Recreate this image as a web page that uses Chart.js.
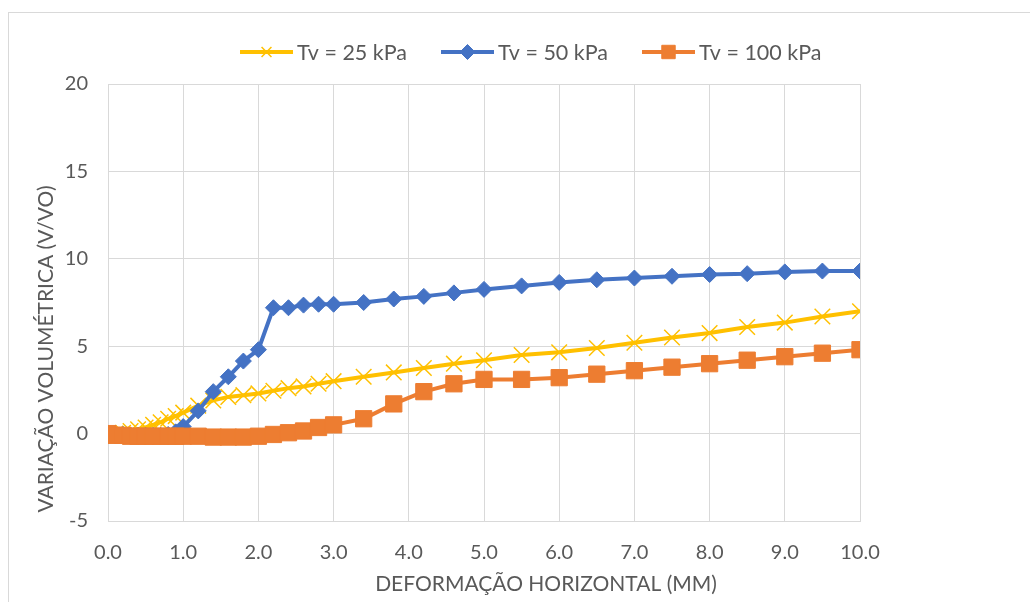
<!DOCTYPE html>
<html>
<head>
<meta charset="utf-8">
<script src="https://cdn.jsdelivr.net/npm/chart.js@4/dist/chart.umd.min.js"></script>
<style>
  html, body { margin: 0; padding: 0; background: #fff; }
  #wrap { width: 1030px; height: 602px; position: relative; }
</style>
</head>
<body>
<div id="wrap"><canvas id="chart" width="1030" height="602"></canvas></div>
<script>
// Data
const deformacao = [0, 0.1, 0.2, 0.3, 0.4, 0.5, 0.6, 0.7, 0.8, 0.9, 1.0, 1.2, 1.4, 1.6, 1.8, 2.0, 2.2, 2.4, 2.6, 2.8, 3.0,
    3.4, 3.8, 4.2, 4.6, 5.0, 5.5, 6.0, 6.5, 7.0, 7.5, 8.0, 8.5, 9.0, 9.5, 10.0];
const tv25 = [0, 0, 0.05, 0.15, 0.25, 0.35, 0.5, 0.65, 0.85, 1.0, 1.2, 1.6, 1.9, 2.1, 2.2, 2.3, 2.45, 2.6, 2.7, 2.85, 3.0,
    3.25, 3.5, 3.75, 4.0, 4.2, 4.5, 4.65, 4.9, 5.2, 5.5, 5.75, 6.1, 6.35, 6.7, 7.0];
const tv50 = [0, -0.05, -0.05, -0.1, -0.1, -0.1, -0.1, -0.1, -0.05, 0.1, 0.4, 1.3, 2.4, 3.25, 4.15, 4.8, 7.2, 7.2, 7.35, 7.4, 7.4,
    7.5, 7.7, 7.85, 8.05, 8.25, 8.45, 8.65, 8.8, 8.9, 9.0, 9.1, 9.15, 9.25, 9.3, 9.3];
const tv100 = [0, -0.1, -0.1, -0.15, -0.15, -0.15, -0.15, -0.15, -0.15, -0.15, -0.15, -0.15, -0.2, -0.2, -0.2, -0.15, -0.05, 0.05, 0.15, 0.35, 0.5,
    0.85, 1.7, 2.4, 2.85, 3.1, 3.1, 3.2, 3.4, 3.6, 3.8, 4.0, 4.2, 4.4, 4.6, 4.8];
const seriesLabels = ['Tv = 25 kPa', 'Tv = 50 kPa', 'Tv = 100 kPa'];
const xTicks = [0, 1, 2, 3, 4, 5, 6, 7, 8, 9, 10];
const xTitle = 'DEFORMAÇÃO HORIZONTAL (MM)';
const yTitle = 'VARIAÇÃO VOLUMÉTRICA (V/VO)';

const FONT = 'Lato, "Open Sans", sans-serif';
const TEXT = '#595959';
const GRID = '#d9d9d9';

function pts(ys) {
    return deformacao.map((x, i) => ({ x: x, y: ys[i] }));
}

// Excel-like legend: line with a small marker in the middle
const excelLegend = {
    id: 'excelLegend',
    afterDraw(chart) {
        const ctx = chart.ctx;
        const xs = [240, 441, 642];
        const radii = [7, 7.5, 9.5];
        const y = 52;
        ctx.save();
        chart.data.datasets.forEach((ds, i) => {
            const x0 = xs[i];
            ctx.strokeStyle = ds.borderColor;
            ctx.fillStyle = ds.borderColor;
            ctx.lineWidth = ds.borderWidth;
            ctx.beginPath();
            ctx.moveTo(x0, y);
            ctx.lineTo(x0 + 53, y);
            ctx.stroke();
            ctx.lineWidth = ds.pointBorderWidth;
            Chart.helpers.drawPoint(ctx, {
                pointStyle: ds.pointStyle,
                radius: radii[i],
                borderWidth: ds.pointBorderWidth,
                rotation: 0
            }, x0 + 26.5, y);
            ctx.fillStyle = TEXT;
            ctx.font = '21.5px ' + FONT;
            ctx.textBaseline = 'middle';
            ctx.fillText(seriesLabels[i], x0 + 57, y + 1);
        });
        ctx.restore();
    }
};

// Axis titles placed like the Excel original
const axisTitles = {
    id: 'axisTitles',
    afterDraw(chart) {
        const ctx = chart.ctx;
        ctx.save();
        ctx.fillStyle = TEXT;
        ctx.font = '21px ' + FONT;
        ctx.textAlign = 'center';
        ctx.textBaseline = 'middle';
        ctx.fillText(xTitle, 546, 584);
        ctx.translate(46, 349);
        ctx.rotate(-Math.PI / 2);
        ctx.fillText(yTitle, 0, 0);
        ctx.restore();
    }
};

// Outer chart frame and white background
const frame = {
    id: 'frame',
    beforeDraw(chart) {
        const ctx = chart.ctx;
        ctx.save();
        ctx.fillStyle = '#fff';
        ctx.fillRect(0, 0, chart.width, chart.height);
        ctx.strokeStyle = GRID;
        ctx.lineWidth = 1;
        ctx.strokeRect(8.5, 12.5, 1040, 620);
        ctx.restore();
    }
};

function makeSet(label, ys, color, style, radius, order) {
    return {
        label: label,
        data: pts(ys),
        showLine: true,
        borderColor: color,
        backgroundColor: color,
        pointBackgroundColor: color,
        pointBorderColor: color,
        borderWidth: 4,
        pointStyle: style,
        pointRadius: radius,
        pointBorderWidth: style === 'crossRot' ? 1.5 : 1,
        pointHoverRadius: radius,
        tension: 0,
        fill: false,
        order: order
    };
}

const ctx = document.getElementById('chart').getContext('2d');
new Chart(ctx, {
    type: 'scatter',
    data: {
        datasets: [
            makeSet(seriesLabels[0], tv25, '#FFC000', 'crossRot', 11, 3),
            makeSet(seriesLabels[1], tv50, '#4472C4', 'rectRot', 8, 2),
            makeSet(seriesLabels[2], tv100, '#ED7D31', 'rect', 11.5, 1)
        ]
    },
    options: {
        responsive: false,
        animation: false,
        devicePixelRatio: 1,
        layout: { padding: { left: 0, right: 170, top: 84, bottom: 0 } },
        plugins: {
            legend: { display: false },
            tooltip: { enabled: false }
        },
        scales: {
            x: {
                type: 'linear',
                min: 0,
                max: 10,
                afterFit(scale) { scale.height = 81; },
                afterBuildTicks(scale) {
                    scale.ticks = xTicks.map(v => ({ value: v }));
                },
                ticks: {
                    color: TEXT,
                    font: { family: FONT, size: 20 },
                    padding: 20,
                    maxRotation: 0,
                    callback: v => Number(v).toFixed(1)
                },
                grid: { color: GRID, lineWidth: 1, drawTicks: false },
                border: { color: GRID }
            },
            y: {
                min: -5,
                max: 20,
                afterFit(scale) { scale.width = 108; },
                ticks: {
                    stepSize: 5,
                    color: TEXT,
                    font: { family: FONT, size: 20 },
                    padding: 20
                },
                grid: { color: GRID, lineWidth: 1, drawTicks: false },
                border: { color: GRID }
            }
        }
    },
    plugins: [frame, axisTitles, excelLegend]
});
</script>
</body>
</html>
